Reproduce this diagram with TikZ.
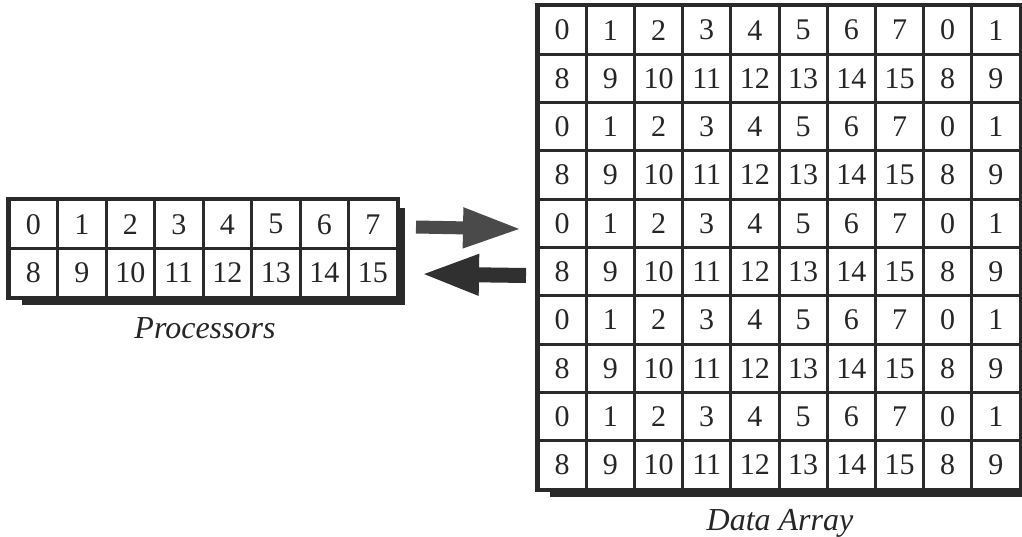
\documentclass[tikz,border=0pt]{standalone}
\usepackage{fontspec}
\setmainfont{Liberation Serif}
\usetikzlibrary{arrows.meta}
\definecolor{gridc}{HTML}{2A2A2A}
\definecolor{arrowR}{HTML}{4A4A4A}
\definecolor{arrowL}{HTML}{303030}
\tikzset{
  cellbox/.style={draw=gridc, line width=3pt, inner sep=0pt, minimum width=48.4pt, minimum height=48.4pt, text=black!85, font=\fontsize{30}{32}\selectfont},
  outerbox/.style={draw=gridc, line width=3.5pt},
  caption/.style={anchor=base, inner sep=0pt, font=\fontsize{32}{34}\selectfont\itshape, text=black!85},
  blockarrow/.style={line width=#1, -{Triangle[length=59pt, width=37pt]}},
}
\begin{document}
\begin{tikzpicture}[x=1pt,y=-1pt]
\useasboundingbox (0,0) rectangle (1022,537);
% shadows
\fill[gridc] (22,208) rectangle (405,305);
\fill[gridc] (550,14) rectangle (1030,497);
\fill[white] (9,200) rectangle (397,297);
\fill[white] (538,6) rectangle (1020,489);
% processors
\foreach \r in {0,1} {
  \foreach \c in {0,...,7} {
    \pgfmathtruncatemacro{\v}{\c+8*\r}
    \node[cellbox, minimum width=48.5pt, minimum height=48.5pt] (p-\r-\c) at ({9+48.5*(\c+0.5)},{200+48.5*(\r+0.5)}) {\v};
  }
}
\draw[outerbox] (p-0-0.north west) rectangle (p-1-7.south east);
% data array
\foreach \r in {0,...,9} {
  \foreach \c in {0,...,9} {
    \pgfmathtruncatemacro{\v}{mod(\c,8)+8*mod(\r,2)}
    \node[cellbox, minimum width=48.2pt, minimum height=48.3pt] (d-\r-\c) at ({538+48.2*(\c+0.5)},{6+48.3*(\r+0.5)}) {\v};
  }
}
\draw[outerbox] (d-0-0.north west) rectangle (d-9-9.south east);
% arrows
\coordinate (ra) at (416,227);
\coordinate (rb) at (522,229);
\coordinate (la) at (526,275.5);
\coordinate (lb) at (420,274);
\draw[blockarrow=13pt, draw=arrowR, fill=arrowR] (ra) -- (rb);
\draw[blockarrow=15pt, draw=arrowL, fill=arrowL] (la) -- (lb);
% captions
\node[caption] (proc) at (205,338) {Processors};
\node[caption] (data) at (780,530) {Data Array};
\end{tikzpicture}
\end{document}
